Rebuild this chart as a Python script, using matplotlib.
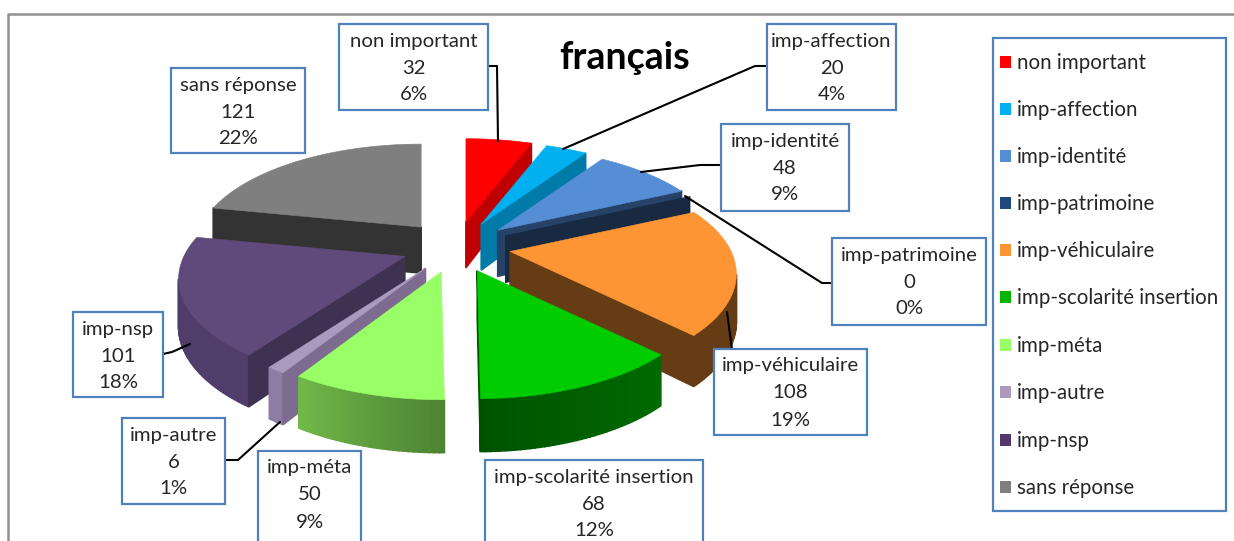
import numpy as np
import matplotlib.pyplot as plt
from matplotlib.colors import to_rgb
from matplotlib.patches import Polygon, Rectangle

plt.rcParams['font.family'] = ['Lato', 'DejaVu Sans']

# Donnees
categories = ['non important', 'imp-affection', 'imp-identité', 'imp-patrimoine',
              'imp-véhiculaire', 'imp-scolarité insertion', 'imp-méta', 'imp-autre',
              'imp-nsp', 'sans réponse']
values = [32, 20, 48, 0, 108, 68, 50, 6, 101, 121]

# Couleurs: dessus, face radiale, cote exterieur (debut, fin)
top_colors = ['#ff0000', '#00b0f0', '#558ed5', '#254061', '#fd9535',
              '#00cc00', '#99ff66', '#ab9ac0', '#604a7b', '#7f7f7f']
radial_colors = ['#c00000', '#007ba8', '#264266', '#172a42', '#663c14',
                 '#005000', '#4d8433', '#7d6c8f', '#3f3151', '#333333']
outer_start = ['#c00000', '#007ba8', '#3b6495', '#172a42', '#663c14',
               '#006b00', '#4d8433', '#8e7ca5', '#503d6b', '#333333']
outer_end = ['#c00000', '#007ba8', '#3b6495', '#172a42', '#663c14',
             '#005400', '#70b848', '#8e7ca5', '#503d6b', '#333333']
legend_colors = ['#ff0000', '#00b0f0', '#558ed5', '#1f497d', '#fd9535',
                 '#00b400', '#99ff66', '#ab9ac0', '#4f3a6b', '#7f7f7f']
draw_order = [9, 0, 1, 2, 3, 4, 8, 7, 6, 5]

# Boites des etiquettes (x0, y0, x1, y1)
label_boxes = [(339, 24, 488, 110), (767, 24, 896, 110), (721, 124, 849, 211),
               (832, 238, 986, 325), (714, 349, 867, 435), (485, 460, 703, 556),
               (258, 451, 361, 556), (122, 418, 225, 504), (73, 312, 163, 397),
               (171, 68, 305, 153)]
leaders = [[(488, 66), (497, 66), (498, 141)],
           [(767, 66), (755, 66), (563, 149)],
           [(721, 165), (700, 165), (641, 172)],
           [(832, 283), (822, 283), (685, 196)],
           [(732, 349), (727, 312)],
           [(225, 460), (238, 460), (280, 422)],
           [(163, 354), (172, 352), (190, 344)]]
legend_y = [62, 109, 156, 203, 250, 297, 345, 392, 440, 487]

# Geometrie du camembert en perspective
cx, cy = 456, 247
ex, ey = 55, 25.7
rx, ry, persp = 221, 100.7, 0.213
blue = '#4f81bd'
text_col = '#262626'


def project(tip, theta):
    # point du bord pour un angle en radians, depuis la pointe de la part
    x, y = np.sin(theta), np.cos(theta)
    s = 1 / (1 + persp * y)
    return tip[0] + rx * x * s, tip[1] - ry * y * s, y


def depth(y):
    return 46 * (1 - 0.15 * y)


def side_face(ax, p0, p1, color):
    d0, d1 = depth(p0[2]), depth(p1[2])
    pts = [p0[:2], p1[:2], (p1[0], p1[1] + d1), (p0[0], p0[1] + d0)]
    # trait de la meme couleur pour cacher les joints entre les bandes
    ax.add_patch(Polygon(pts, closed=True, fc=color, ec=color, lw=1.2))


fig = plt.figure(figsize=(12.34, 5.41), dpi=100)
ax = fig.add_axes([0, 0, 1, 1])
ax.set_xlim(0, 1234)
ax.set_ylim(541, 0)
ax.axis('off')

# Cadre du graphique
ax.plot([8, 8, 1234], [541, 14, 14], color='#909090', lw=1.8)

total = sum(values)
bounds = 2 * np.pi * np.concatenate([[0], np.cumsum(values)]) / total

for i in draw_order:
    start, end = bounds[i], bounds[i + 1]
    mid = (start + end) / 2
    tip = (cx + ex * np.sin(mid), cy - ey * np.cos(mid))
    tip3 = (tip[0], tip[1], 0.0)
    n = max(2, int(np.degrees(end - start)))
    angles = np.linspace(start, end, n)
    arc = [project(tip, a) for a in angles]

    # faces visibles seulement (le bord va de droite a gauche a l'ecran)
    c0, c1 = np.array(to_rgb(outer_start[i])), np.array(to_rgb(outer_end[i]))
    for k in range(n - 1):
        if arc[k + 1][0] < arc[k][0]:
            side_face(ax, arc[k], arc[k + 1], c0 + (c1 - c0) * k / max(1, n - 2))
    if arc[0][0] < tip[0]:
        side_face(ax, tip3, arc[0], radial_colors[i])
    if tip[0] < arc[-1][0]:
        side_face(ax, arc[-1], tip3, radial_colors[i])

    if values[i] > 0:
        pts = [tip] + [p[:2] for p in arc]
        ax.add_patch(Polygon(pts, closed=True, fc=top_colors[i], ec=top_colors[i], lw=0.4))

# Traits de rappel
for line in leaders:
    xs, ys = zip(*line)
    ax.plot(xs, ys, color='black', lw=1.5, solid_capstyle='round', zorder=5)

# Etiquettes
for name, v, box in zip(categories, values, label_boxes):
    x0, y0, x1, y1 = box
    ax.add_patch(Rectangle((x0, y0), x1 - x0, y1 - y0, fc='white', ec=blue, lw=1.6, zorder=6))
    xm = (x0 + x1) / 2
    for j, txt in enumerate([name, str(v), f'{round(100 * v / total)}%']):
        ax.text(xm, y0 + 17 + 27 * j, txt, ha='center', va='center', fontsize=14.7,
                color=text_col, zorder=7)

ax.text(625, 58, 'français', ha='center', va='center', fontsize=27, fontweight='bold',
        color='black')

# Legende
ax.add_patch(Rectangle((993, 38), 233, 473, fc='white', ec=blue, lw=1.6, zorder=6))
for name, col, y in zip(categories, legend_colors, legend_y):
    ax.add_patch(Rectangle((1000, y - 6), 11, 12, fc=col, ec='none', zorder=7))
    ax.text(1017, y + 1, name, ha='left', va='center', fontsize=14.8, color=text_col, zorder=7)

plt.savefig('out.png', dpi=100)
plt.close()
